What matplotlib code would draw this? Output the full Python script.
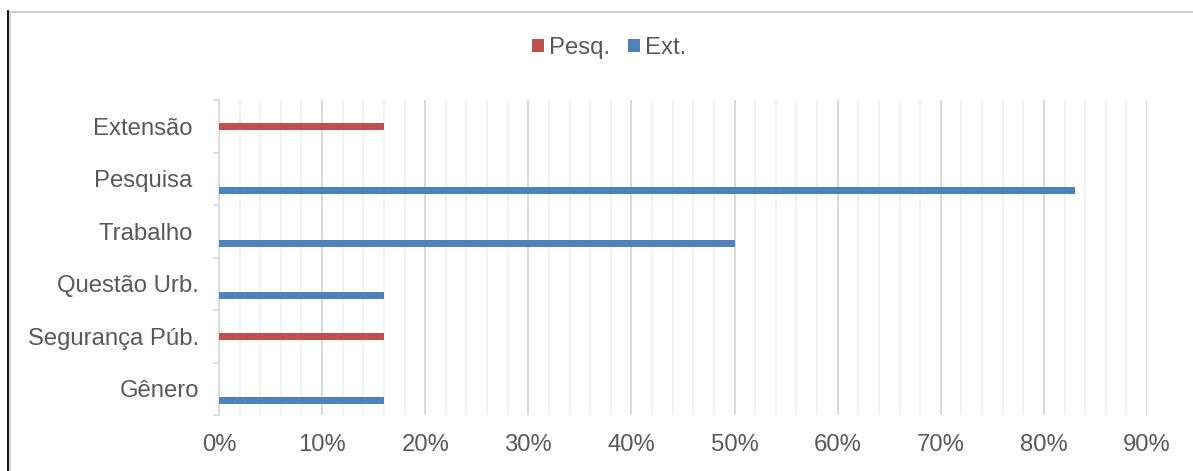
import matplotlib
matplotlib.use("Agg")
import matplotlib.pyplot as plt
import numpy as np
from matplotlib.patches import Patch
from matplotlib.lines import Line2D
from matplotlib.ticker import MultipleLocator, FixedLocator, PercentFormatter

categories = ["Extensão ", "Pesquisa ", "Trabalho ", "Questão Urb.", "Segurança Púb.", "Gênero"]
pesq = [0.16, 0, 0, 0, 0.16, 0]
ext = [0, 0.83, 0.50, 0.16, 0, 0.16]
series_names = ["Pesq.", "Ext."]
colors = ["#C0504D", "#4F81BD"]

plt.rcParams['font.family'] = ['Liberation Sans', 'DejaVu Sans']

W, H = 1193, 471
fig = plt.figure(figsize=(W / 100, H / 100), dpi=100)
ax = fig.add_axes([219 / W, 1 - 415 / H, (1147 - 219) / W, (415 - 100) / H])

y = np.arange(len(categories))
bh = 0.135
ax.barh(y, pesq, height=bh, color=colors[0], label=series_names[0], zorder=3)
ax.barh(y + 0.225, ext, height=bh, color=colors[1], label=series_names[1], zorder=3)

ax.set_xlim(0, 0.9)
ax.set_ylim(len(categories) - 0.5, -0.5)

FS = 17.2
ax.xaxis.set_major_locator(MultipleLocator(0.1))
ax.xaxis.set_minor_locator(MultipleLocator(0.02))
ax.xaxis.set_major_formatter(PercentFormatter(1.0, decimals=0))
ax.grid(axis='x', which='major', color='#D9D9D9', linewidth=1.4, zorder=0)
ax.grid(axis='x', which='minor', color='#F2F2F2', linewidth=1.4, zorder=0)
ax.tick_params(axis='x', which='both', length=0, pad=14, labelsize=FS, labelcolor='#595959')

ax.set_yticks(y)
ax.set_yticklabels(categories)
ax.yaxis.set_minor_locator(FixedLocator(np.arange(len(categories) + 1) - 0.5))
ax.tick_params(axis='y', which='major', length=0, pad=14.4, labelsize=FS, labelcolor='#595959')
ax.tick_params(axis='y', which='minor', length=4.3, width=1.2, color='#D9D9D9', direction='out')

for s in ['top', 'right', 'bottom']:
    ax.spines[s].set_visible(False)
ax.spines['left'].set_color('#D9D9D9')
ax.spines['left'].set_linewidth(1.2)

handles = [Patch(facecolor=c) for c in colors]
fig.legend(handles, series_names, loc='center', bbox_to_anchor=(609 / W, 1 - 48 / H),
           ncol=2, frameon=False, fontsize=FS, labelcolor='#595959',
           handlelength=0.51, handleheight=0.51, handletextpad=0.22, columnspacing=0.75)

# chart border
fig.add_artist(Line2D([9.5 / W, 1.0], [1 - 11.5 / H, 1 - 11.5 / H], transform=fig.transFigure,
                      color='#D0D0D0', linewidth=1.5))
fig.add_artist(Line2D([9.8 / W, 9.8 / W], [0, 1 - 11.5 / H], transform=fig.transFigure,
                      color='#D0D0D0', linewidth=1.2))
fig.add_artist(Line2D([8.3 / W, 8.3 / W], [0, 1 - 11 / H], transform=fig.transFigure,
                      color='black', linewidth=1.3))

fig.savefig("out.png", dpi=100)
